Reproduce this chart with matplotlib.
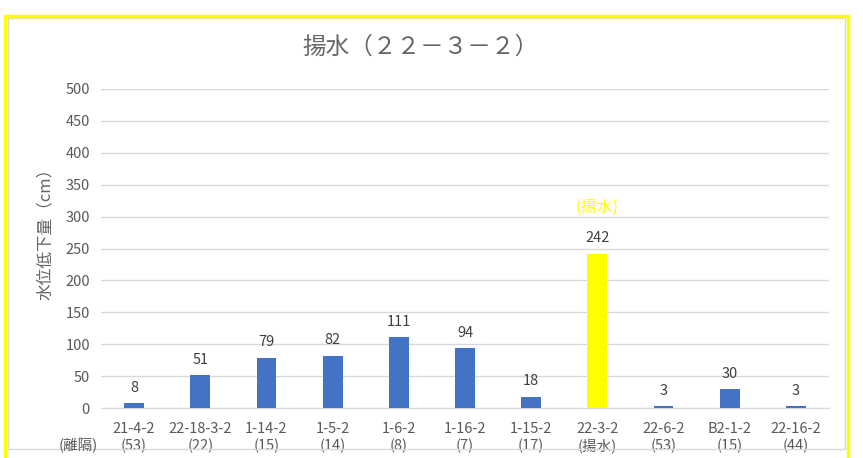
import matplotlib
matplotlib.use("Agg")
import matplotlib.pyplot as plt
from matplotlib.patches import Rectangle

plt.rcParams['font.family'] = ['Noto Sans CJK JP', 'DejaVu Sans']

wells = ["21-4-2", "22-18-3-2", "1-14-2", "1-5-2", "1-6-2", "1-16-2",
         "1-15-2", "22-3-2", "22-6-2", "B2-1-2", "22-16-2"]
distances = ["(53)", "(22)", "(15)", "(14)", "(8)", "(7)",
             "(17)", "(揚水)", "(53)", "(15)", "(44)"]
drawdown = [8, 51, 79, 82, 111, 94, 18, 242, 3, 30, 3]
pumping_well = "22-3-2"

yticks = list(range(0, 501, 50))

W, H = 863, 458
fig = plt.figure(figsize=(W / 100, H / 100), dpi=100)
ax = fig.add_axes([101 / W, 1 - 408 / H, 728 / W, 319 / H])

text_gray = "#595959"
blue = "#4472C4"
yellow = "#FFFF00"

x = list(range(len(wells)))
colors = [yellow if w == pumping_well else blue for w in wells]
ax.bar(x, drawdown, width=0.3, color=colors, zorder=3)

for xi, v, w in zip(x, drawdown, wells):
    ax.annotate(str(v), (xi, v), xytext=(0, 6), textcoords="offset points",
                ha="center", va="bottom", fontsize=10.5, color="#404040")
    if w == pumping_well:
        ax.annotate("(揚水)", (xi, v), xytext=(0, 27), textcoords="offset points",
                    ha="center", va="bottom", fontsize=11.5, color=yellow)

ax.set_xlim(-0.5, len(wells) - 0.5)
ax.set_ylim(0, 500)
ax.set_yticks(yticks)
ax.set_yticklabels([str(t) for t in yticks], fontsize=10.5, color=text_gray)
ax.set_xticks(x)
ax.set_xticklabels([f"{w}\n{d}" for w, d in zip(wells, distances)],
                   fontsize=10.5, color=text_gray, linespacing=1.2)
ax.tick_params(axis="both", length=0)
ax.tick_params(axis="y", pad=8)
ax.tick_params(axis="x", pad=10)

ax.grid(axis="y", color="#D9D9D9", linewidth=1, zorder=0)
for s in ["top", "right", "left"]:
    ax.spines[s].set_visible(False)
ax.spines["bottom"].set_color("#D9D9D9")

fig.text(78 / W, 1 - 446 / H, "(離隔)", ha="center", va="center",
         fontsize=10.5, color=text_gray)

fig.text(421 / W, 1 - 47 / H, "揚水（２２－３－２）", ha="center", va="center",
         fontsize=17, color="#666666")
fig.text(45 / W, 1 - 230 / H, "水位低下量（cm）", ha="center", va="center",
         rotation=90, fontsize=12, color="#666666")

# chart frame: thin gray inner border and yellow outer border
fig.add_artist(Rectangle((8 / W, 1 - 449 / H), 837 / W, 431 / H,
                         transform=fig.transFigure, fill=False,
                         edgecolor="#D9D9D9", linewidth=1))
fig.add_artist(Rectangle((5 / W, -0.05), 843 / W, (H - 16) / H + 0.05,
                         transform=fig.transFigure, fill=False,
                         edgecolor=yellow, linewidth=2.5))

fig.savefig("out.png", dpi=100)
